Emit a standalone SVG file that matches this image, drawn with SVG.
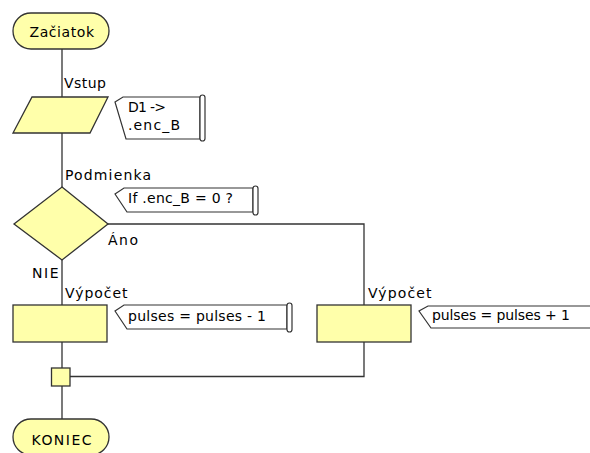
<svg xmlns="http://www.w3.org/2000/svg" width="590" height="453" viewBox="0 0 590 453">
<style>
.shape{fill:#FFFFAA;stroke:#333;stroke-width:1.3}
.cmt{fill:#fff;stroke:#333;stroke-width:1.2}
.line{fill:none;stroke:#333;stroke-width:1.3}
text{font-family:"DejaVu Sans","Liberation Sans",Arial,sans-serif;font-size:14px;fill:#000}
</style>
<rect width="590" height="453" fill="#fff"/>
<g id="connectors">
<path class="line" d="M62 49V97M62 133V187M62 260V305M62 342V368M62 386V419"/>
<path class="line" d="M108 224H364V305M364 342V376.5H70"/>
</g>
<g id="start">
<rect class="shape" x="13" y="13" width="96" height="36" rx="18"/>
<text x="29.5" y="37" textLength="64.5" lengthAdjust="spacing">Začiatok</text>
</g>
<g id="input">
<polygon class="shape" points="32,97 108,97 90,133 13,133"/>
<text x="64" y="88" textLength="42" lengthAdjust="spacing">Vstup</text>
</g>
<g id="input-comment">
<path class="cmt" d="M115 102L123 97H200V139H126Z"/>
<rect class="cmt" x="200" y="95" width="5" height="46" rx="2.5"/>
<text x="128" y="112" textLength="38" lengthAdjust="spacing">D1 -&gt;</text>
<text x="128" y="130" textLength="52" lengthAdjust="spacing">.enc_B</text>
</g>
<g id="decision">
<polygon class="shape" points="62,187 108,224 62,260 14,224"/>
<text x="65" y="180" textLength="86" lengthAdjust="spacing">Podmienka</text>
<text x="108" y="245" textLength="30" lengthAdjust="spacing">Áno</text>
<text x="32" y="278" textLength="26.5" lengthAdjust="spacing">NIE</text>
</g>
<g id="decision-comment">
<path class="cmt" d="M115 194L124 188H253V212H127Z"/>
<rect class="cmt" x="253" y="186" width="5" height="29" rx="2.5"/>
<text x="128" y="203" textLength="105" lengthAdjust="spacing">If .enc_B = 0 ?</text>
</g>
<g id="process-left">
<rect class="shape" x="13" y="305" width="94" height="37"/>
<text x="65" y="298" textLength="62.5" lengthAdjust="spacing">Výpočet</text>
</g>
<g id="process-left-comment">
<path class="cmt" d="M115 311L124 305H287V329H127Z"/>
<rect class="cmt" x="287" y="303" width="5" height="29" rx="2.5"/>
<text x="128" y="321" textLength="138" lengthAdjust="spacing">pulses = pulses - 1</text>
</g>
<g id="process-right">
<rect class="shape" x="317" y="305" width="94" height="37"/>
<text x="368" y="298" textLength="63.5" lengthAdjust="spacing">Výpočet</text>
</g>
<g id="process-right-comment">
<path class="cmt" d="M600 306H428L419 311L431 328H600"/>
<text x="432" y="320" textLength="138" lengthAdjust="spacing">pulses = pulses + 1</text>
</g>
<g id="join">
<rect class="shape" x="51.5" y="368" width="18.5" height="18"/>
</g>
<g id="end">
<rect class="shape" x="13" y="419" width="96" height="36" rx="18"/>
<text x="31.5" y="445" textLength="60" lengthAdjust="spacing">KONIEC</text>
</g>
</svg>
